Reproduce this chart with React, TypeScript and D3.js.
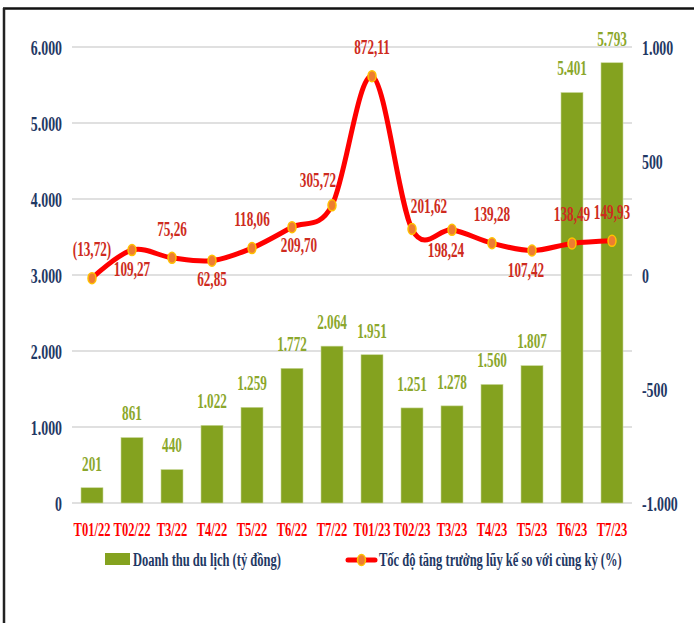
import React from "react";
import * as d3 from "d3";

const categories = ["T01/22","T02/22","T3/22","T4/22","T5/22","T6/22","T7/22","T01/23","T02/23","T3/23","T4/23","T5/23","T6/23","T7/23"];
const revenue = [201, 861, 440, 1022, 1259, 1772, 2064, 1951, 1251, 1278, 1560, 1807, 5401, 5793];
const growth = [-13.72, 109.27, 75.26, 62.85, 118.06, 209.70, 305.72, 872.11, 201.62, 198.24, 139.28, 107.42, 138.49, 149.93];
const growthLabelPlacement = ["t","b","t","b","t","br","tl","t","tr","bl","t","bl","t","t"];
const leftTicks = [0, 1000, 2000, 3000, 4000, 5000, 6000];
const rightTicks = [-1000, -500, 0, 500, 1000];
const legendBar = "Doanh thu du lịch (tỷ đồng)";
const legendLine = "Tốc độ tăng trưởng lũy kế so với cùng kỳ (%)";

const W = 694, H = 623;
const SX = 0.66;
const FONT = "'Liberation Serif', 'Times New Roman', serif";
const NAVY = "#1F3864";
const BAR = "#84A21F";
const BAR_LABEL = "#8BA72C";
const LINE = "#FF0000";
const LINE_LABEL = "#CE2B20";

const thousands = (v: number) => {
  const s = Math.abs(v).toString().replace(/\B(?=(\d{3})+(?!\d))/g, ".");
  return (v < 0 ? "-" : "") + s;
};
const pct = (v: number) => {
  const s = Math.abs(v).toFixed(2).replace(".", ",");
  return v < 0 ? `(${s})` : s;
};

const offsets: Record<string, [number, number]> = {
  t: [0, -29],
  b: [0, 19],
  tl: [-14, -25],
  tr: [17, -23],
  br: [7, 18],
  bl: [-6, 20],
};

function T({ x, y, size, color, anchor = "middle", children }: any) {
  // y is the visual vertical centre of the digits
  return (
    <text
      transform={`translate(${x},${y + size * 0.34}) scale(${SX},1)`}
      textAnchor={anchor}
      fontFamily={FONT}
      fontWeight="bold"
      fontSize={size}
      fill={color}
    >
      {children}
    </text>
  );
}

export default function App() {
  const x = d3.scaleBand<string>().domain(categories).range([72, 632]).paddingInner(0.45).paddingOuter(0.225);
  const yL = d3.scaleLinear().domain([0, 6000]).range([503, 47]);
  const yR = d3.scaleLinear().domain([-1000, 1000]).range([503, 47]);
  const cx = (c: string) => (x(c) as number) + x.bandwidth() / 2;

  const line = d3
    .line<number>()
    .x((_, i) => cx(categories[i]))
    .y((d) => yR(d))
    .curve(d3.curveCardinal.tension(0));

  return (
    <svg width={W} height={H} style={{ position: "absolute", left: 0, top: 0, background: "#fff" }}>
      <rect x={0} y={0} width={W} height={H} fill="#fff" />
      {/* frame */}
      <line x1={3} x2={W} y1={8.5} y2={8.5} stroke="#111" strokeWidth={2.5} />
      <line x1={4} x2={4} y1={8} y2={H} stroke="#222" strokeWidth={2.5} />

      {/* grid */}
      {leftTicks.map((t) => (
        <line key={t} x1={72} x2={632} y1={yL(t)} y2={yL(t)} stroke="#D6D6D6" strokeWidth={1.6} />
      ))}

      {/* left axis labels */}
      {leftTicks.map((t) => (
        <T key={t} x={62} y={yL(t) + 1} size={21} color={NAVY} anchor="end">
          {thousands(t)}
        </T>
      ))}
      {/* right axis labels */}
      {rightTicks.map((t) => (
        <T key={t} x={642} y={yR(t) + 1} size={21} color={NAVY} anchor="start">
          {thousands(t)}
        </T>
      ))}

      {/* bars */}
      {revenue.map((v, i) => (
        <rect
          key={i}
          x={x(categories[i])}
          y={yL(v)}
          width={x.bandwidth()}
          height={yL(0) - yL(v)}
          fill={BAR}
          stroke="#C9D89A"
          strokeWidth={0.6}
        />
      ))}
      {revenue.map((v, i) => (
        <T key={i} x={cx(categories[i])} y={yL(v) - 24} size={20} color={BAR_LABEL}>
          {thousands(v)}
        </T>
      ))}

      {/* line */}
      <path d={line(growth) || ""} fill="none" stroke={LINE} strokeWidth={5} strokeLinejoin="round" strokeLinecap="round" />
      {growth.map((v, i) => (
        <ellipse key={i} cx={cx(categories[i])} cy={yR(v)} rx={4} ry={5.5} fill="#ED7D31" stroke="#FFC000" strokeWidth={1.5} />
      ))}
      {growth.map((v, i) => {
        const [dx, dy] = offsets[growthLabelPlacement[i]];
        return (
          <T key={i} x={cx(categories[i]) + dx} y={yR(v) + dy} size={20} color={LINE_LABEL}>
            {pct(v)}
          </T>
        );
      })}

      {/* x axis labels */}
      {categories.map((c) => (
        <T key={c} x={cx(c)} y={530} size={19} color="#FF0000">
          {c}
        </T>
      ))}

      {/* legend */}
      <rect x={105} y={553} width={25} height={12} fill={BAR} />
      <T x={133} y={560} size={19} color={NAVY} anchor="start">
        {legendBar}
      </T>
      <line x1={348} x2={375} y1={560} y2={560} stroke={LINE} strokeWidth={5} strokeLinecap="round" />
      <ellipse cx={361.5} cy={560} rx={4} ry={5.5} fill="#ED7D31" stroke="#FFC000" strokeWidth={1.5} />
      <T x={379} y={560} size={19} color={NAVY} anchor="start">
        {legendLine}
      </T>
    </svg>
  );
}
